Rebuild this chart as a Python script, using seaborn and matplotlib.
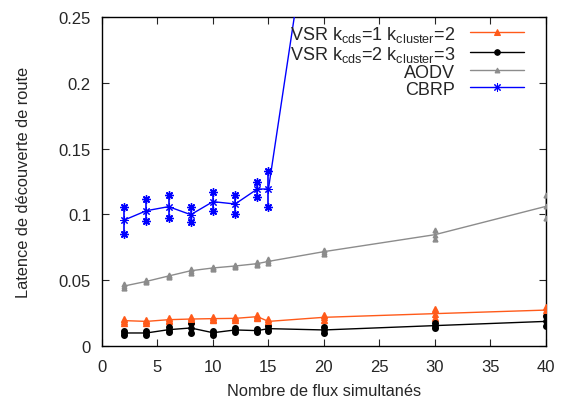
import numpy as np
import pandas as pd
import matplotlib
matplotlib.use("Agg")
import matplotlib.pyplot as plt
import seaborn as sns

# Nombre de flux simultanes
flux = [2, 4, 6, 8, 10, 12, 14, 15, 20, 30, 40]
flux_cbrp = [2, 4, 6, 8, 10, 12, 14, 15, 20]

vsr1 = [0.0193, 0.0187, 0.0200, 0.0205, 0.0208, 0.0210, 0.0223, 0.0187, 0.0218, 0.0246, 0.0273]
vsr1_err = [0.0015, 0.0012, 0.0012, 0.0012, 0.0012, 0.0012, 0.0012, 0.0015, 0.0018, 0.0035, 0.0025]

vsr2 = [0.0099, 0.0099, 0.0124, 0.0137, 0.0101, 0.0122, 0.0117, 0.0132, 0.0122, 0.0155, 0.0187]
vsr2_err = [0.0018, 0.0018, 0.0018, 0.0039, 0.0015, 0.0012, 0.0012, 0.0018, 0.0020, 0.0018, 0.0038]

aodv = [0.0456, 0.0491, 0.0532, 0.0572, 0.0593, 0.0608, 0.0626, 0.0643, 0.0717, 0.0846, 0.1061]
aodv_err = [0.0012, 0.0008, 0.0008, 0.0015, 0.0010, 0.0008, 0.0010, 0.0015, 0.0015, 0.0034, 0.0090]

cbrp = [0.0957, 0.1028, 0.1059, 0.0998, 0.1097, 0.1079, 0.1193, 0.1193, 0.40]
cbrp_lo = [0.0850, 0.0952, 0.0970, 0.0940, 0.1023, 0.1006, 0.1135, 0.1054, 0.40]
cbrp_hi = [0.1058, 0.1114, 0.1147, 0.1056, 0.1173, 0.1150, 0.1246, 0.1330, 0.40]

labels = ['VSR k$_{cds}$=1 k$_{cluster}$=2', 'VSR k$_{cds}$=2 k$_{cluster}$=3', 'AODV', 'CBRP']
colors = ['#ff5a1a', '#000000', '#8c8c8c', '#0000ff']
markers = ['^', 'o', '^', (8, 2, 0)]
msizes = [5, 4, 3.5, 6]

rows = []
for lab, xs, ys, lo, hi in [
    (labels[0], flux, vsr1, np.subtract(vsr1, vsr1_err), np.add(vsr1, vsr1_err)),
    (labels[1], flux, vsr2, np.subtract(vsr2, vsr2_err), np.add(vsr2, vsr2_err)),
    (labels[2], flux, aodv, np.subtract(aodv, aodv_err), np.add(aodv, aodv_err)),
    (labels[3], flux_cbrp, cbrp, cbrp_lo, cbrp_hi),
]:
    for x, y, l, h in zip(xs, ys, lo, hi):
        rows.append({'flux': x, 'latence': y, 'lo': l, 'hi': h, 'proto': lab})
df = pd.DataFrame(rows)

sns.set_style('ticks')
plt.rcParams['font.family'] = ['Liberation Sans', 'DejaVu Sans']
plt.rcParams['mathtext.fontset'] = 'custom'
plt.rcParams['mathtext.rm'] = 'Liberation Sans'
plt.rcParams['mathtext.it'] = 'Liberation Sans'

fig = plt.figure(figsize=(5.61, 4.02), dpi=100)
ax = fig.add_axes([0.1818, 0.1368, 0.7912, 0.8184])

for lab, col, mk, ms in zip(labels, colors, markers, msizes):
    d = df[df['proto'] == lab]
    ax.vlines(d['flux'], d['lo'], d['hi'], color=col, lw=1.2, zorder=3)
    for end in ['lo', 'hi']:
        ax.plot(d['flux'], d[end], ls='none', marker=mk, ms=ms, color=col,
                mec=col, zorder=3)
    sns.lineplot(data=d, x='flux', y='latence', color=col, marker=mk,
                 markersize=ms, markeredgecolor=col, lw=1, label=lab, ax=ax,
                 zorder=4)

ax.set_xlim(0, 40)
ax.set_ylim(0, 0.25)
ax.set_xticks(range(0, 41, 5))
ax.set_yticks([0, 0.05, 0.1, 0.15, 0.2, 0.25])
ax.set_yticklabels(['0', '0.05', '0.1', '0.15', '0.2', '0.25'])
ax.tick_params(direction='in', top=True, right=True, labelsize=12, length=5)
ax.tick_params(axis='x', pad=9)
ax.tick_params(axis='y', pad=8)
for s in ax.spines.values():
    s.set_linewidth(1)
    s.set_color('black')
ax.set_xlabel('Nombre de flux simultanés', fontsize=11.8, labelpad=7)
ax.set_ylabel('Latence de découverte de route', fontsize=11.8, labelpad=20)

ax.legend(loc='upper right', frameon=False, markerfirst=False, fontsize=13,
          handlelength=3.0, labelspacing=0.0, borderaxespad=0.1,
          borderpad=0.0, handletextpad=0.8, bbox_to_anchor=(0.955, 0.985))

fig.savefig('out.png', dpi=100)
